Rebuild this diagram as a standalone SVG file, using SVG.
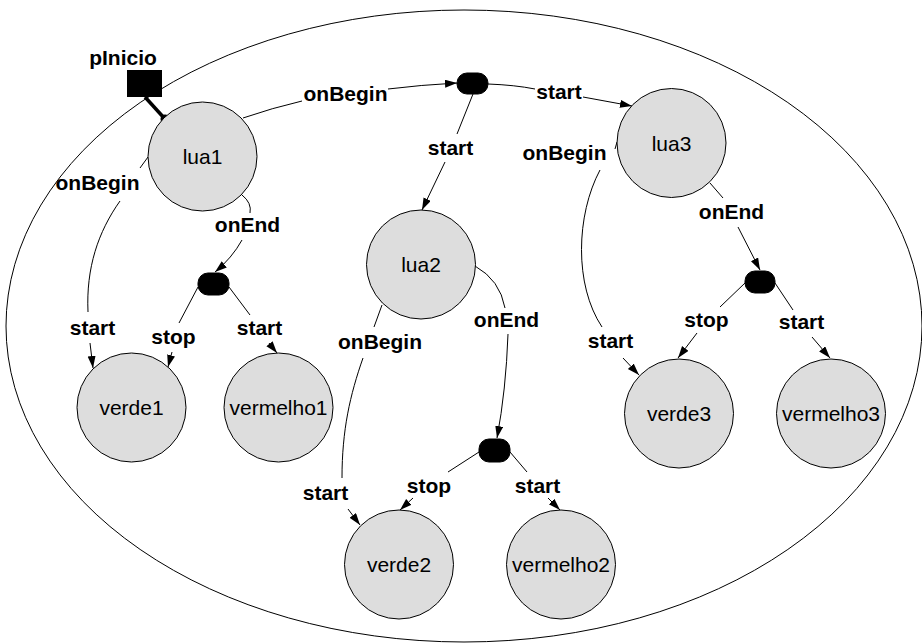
<svg xmlns="http://www.w3.org/2000/svg" width="922" height="643" viewBox="0 0 922 643">
<style>
.node circle{fill:#dddddd;stroke:#000;stroke-width:1}
.node text{font-family:"Liberation Sans",Arial,sans-serif;font-size:21px;text-anchor:middle;fill:#000}
.lbl{font-family:"Liberation Sans",Arial,sans-serif;font-size:21px;font-weight:bold;text-anchor:middle;fill:#000}
.edge{fill:none;stroke:#000;stroke-width:1}
.arr{marker-end:url(#ah)}
.junc{fill:#000;stroke:#000}
</style>
<defs>
<marker id="ah" markerUnits="userSpaceOnUse" markerWidth="13" markerHeight="9" refX="12" refY="4" orient="auto">
<path d="M0,0 L12,4 L0,8 z" fill="#000"/>
</marker>
</defs>
<rect width="922" height="643" fill="#fff"/>
<ellipse id="container" cx="464" cy="326" rx="458" ry="316" fill="none" stroke="#000" stroke-width="1"/>

<g id="connectors">
<!-- lua1 -> J1 onBegin -->
<path class="edge" d="M243,118 Q272,108 302,101"/>
<path class="edge arr" d="M388,89 Q420,85 457,83"/>
<!-- J1 -> lua3 start -->
<path class="edge" d="M488,84 Q515,85 535,89"/>
<path class="edge arr" d="M583,97 L632,106"/>
<!-- J1 -> lua2 start -->
<path class="edge" d="M473,94 L457,134"/>
<path class="edge arr" d="M445,162 L422,210"/>
<!-- lua1 -> verde1 onBegin/start -->
<path class="edge" d="M148,157 L140,168"/>
<path class="edge" d="M120,201 C98,232 86,268 88,312"/>
<path class="edge arr" d="M90,343 L93,368"/>
<!-- lua1 -> J2 onEnd -->
<path class="edge" d="M242,195 Q252,203 250,213"/>
<path class="edge arr" d="M242,240 Q232,258 215,272"/>
<!-- J2 -> verde1 stop -->
<path class="edge" d="M198,287 L179,323"/>
<path class="edge arr" d="M172,352 L168,367"/>
<!-- J2 -> vermelho1 start -->
<path class="edge" d="M229,287 L250,315"/>
<path class="edge arr" d="M269,343 L277,353"/>
<!-- lua2 -> verde2 onBegin/start -->
<path class="edge" d="M382,305 L374,327"/>
<path class="edge" d="M363,358 C350,395 342,430 342,478"/>
<path class="edge arr" d="M348,509 L360,525"/>
<!-- lua2 -> J3 onEnd -->
<path class="edge" d="M475,266 Q500,280 505,308"/>
<path class="edge arr" d="M508,334 Q506,390 497,438"/>
<!-- J3 -> verde2 stop -->
<path class="edge" d="M479,452 L448,472"/>
<path class="edge arr" d="M413,498 L400,510"/>
<!-- J3 -> vermelho2 start -->
<path class="edge" d="M510,452 L527,472"/>
<path class="edge arr" d="M548,498 L560,510"/>
<!-- lua3 -> verde3 onBegin/start -->
<path class="edge" d="M617,142 L615,149"/>
<path class="edge" d="M600,170 C576,215 574,285 602,327"/>
<path class="edge arr" d="M623,358 L639,375"/>
<!-- lua3 -> J4 onEnd -->
<path class="edge" d="M710,183 L723,198"/>
<path class="edge arr" d="M738,227 L760,270"/>
<!-- J4 -> verde3 stop -->
<path class="edge" d="M745,283 L720,307"/>
<path class="edge arr" d="M697,333 L678,358"/>
<!-- J4 -> vermelho3 start -->
<path class="edge" d="M775,283 L793,310"/>
<path class="edge arr" d="M812,337 L830,358"/>
<!-- pInicio port -->
<path d="M145,97 L165,119" fill="none" stroke="#000" stroke-width="3.5"/>
</g>

<g id="labels">
<text class="lbl" x="345.5" y="101">onBegin</text>
<text class="lbl" x="559" y="99">start</text>
<text class="lbl" x="450.5" y="155">start</text>
<text class="lbl" x="97.5" y="190">onBegin</text>
<text class="lbl" x="92.5" y="335">start</text>
<text class="lbl" x="247.5" y="232">onEnd</text>
<text class="lbl" x="173.5" y="344">stop</text>
<text class="lbl" x="259.5" y="335">start</text>
<text class="lbl" x="380" y="349">onBegin</text>
<text class="lbl" x="325.5" y="500">start</text>
<text class="lbl" x="506.5" y="327">onEnd</text>
<text class="lbl" x="429" y="493">stop</text>
<text class="lbl" x="537.5" y="493">start</text>
<text class="lbl" x="564.5" y="160">onBegin</text>
<text class="lbl" x="610.5" y="348">start</text>
<text class="lbl" x="731.5" y="219">onEnd</text>
<text class="lbl" x="706.5" y="327">stop</text>
<text class="lbl" x="801.5" y="329">start</text>
</g>

<g id="pInicio">
<text class="lbl" x="123" y="65">pInicio</text>
<rect x="127" y="70" width="35" height="27" fill="#000"/>
<circle cx="165" cy="119" r="4.5" fill="#000"/>
</g>

<g id="J1"><rect class="junc" x="457" y="73" width="31" height="21" rx="10"/></g>
<g id="J2"><rect class="junc" x="198" y="273" width="31" height="22" rx="10"/></g>
<g id="J3"><rect class="junc" x="479" y="439" width="31" height="23" rx="10"/></g>
<g id="J4"><rect class="junc" x="745" y="271" width="30" height="22" rx="10"/></g>

<g id="lua1" class="node"><circle cx="202.5" cy="156.5" r="54.5"/><text x="202.5" y="164">lua1</text></g>
<g id="lua2" class="node"><circle cx="421" cy="264.5" r="54.5"/><text x="421" y="272">lua2</text></g>
<g id="lua3" class="node"><circle cx="671.5" cy="143" r="54.5"/><text x="671.5" y="150.5">lua3</text></g>
<g id="verde1" class="node"><circle cx="131.5" cy="407.5" r="54.5"/><text x="131.5" y="415">verde1</text></g>
<g id="vermelho1" class="node"><circle cx="278.5" cy="407.5" r="54.5"/><text x="278.5" y="415">vermelho1</text></g>
<g id="verde2" class="node"><circle cx="399" cy="564.5" r="54.5"/><text x="399" y="572">verde2</text></g>
<g id="vermelho2" class="node"><circle cx="561" cy="564.5" r="54.5"/><text x="561" y="572">vermelho2</text></g>
<g id="verde3" class="node"><circle cx="679" cy="413.5" r="54.5"/><text x="679" y="421">verde3</text></g>
<g id="vermelho3" class="node"><circle cx="831" cy="413.5" r="54.5"/><text x="831" y="421">vermelho3</text></g>
</svg>
